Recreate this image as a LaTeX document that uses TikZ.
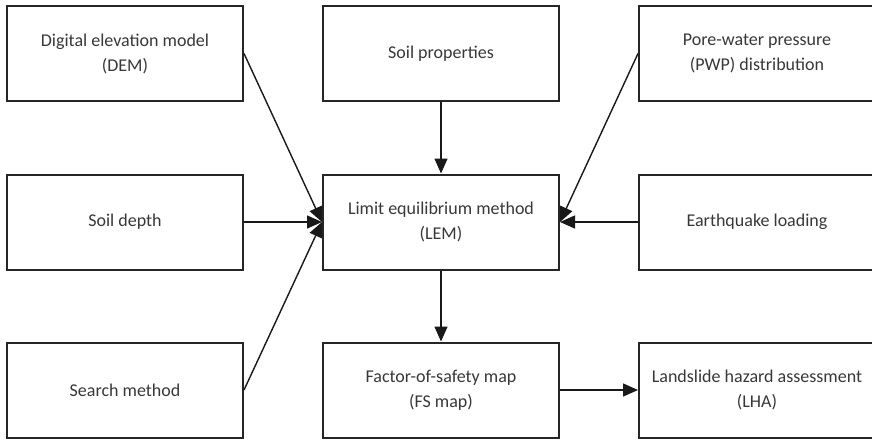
\documentclass[tikz,border=0pt]{standalone}
\usepackage{fontspec}
\setmainfont{Carlito}
\usetikzlibrary{arrows.meta}
\begin{document}
\begin{tikzpicture}[x=1pt,y=-1pt,
  box/.style={draw=black!85, line width=2pt, fill=white, minimum width=236pt, minimum height=95pt,
    inner sep=0pt, align=center, text=black!78, font=\fontsize{18}{25}\selectfont},
  arr/.style={draw=black!90, line width=1.4pt, -{Triangle[length=15pt,width=13pt]}}]
\useasboundingbox (0,0) rectangle (872,440);
\node[box] (dem) at (125,53.5) {Digital elevation model\\(DEM)};
\node[box] (sp) at (441,53.5) {Soil properties};
\node[box] (pwp) at (757,53.5) {Pore-water pressure\\(PWP) distribution};
\node[box] (sd) at (125,222) {Soil depth};
\node[box] (lem) at (441,222) {Limit equilibrium method\\(LEM)};
\node[box] (eq) at (757,222) {Earthquake loading};
\node[box] (sm) at (125,390) {Search method};
\node[box] (fs) at (441,390) {Factor-of-safety map\\(FS map)};
\node[box] (lha) at (757,390) {Landslide hazard assessment\\(LHA)};
\draw[arr] (dem.east) -- (lem.west);
\draw[arr] (sd.east) -- (lem.west);
\draw[arr] (sm.east) -- (lem.west);
\draw[arr] (pwp.west) -- (lem.east);
\draw[arr] (eq.west) -- (lem.east);
\draw[arr] (sp.south) -- (lem.north);
\draw[arr] (lem.south) -- (fs.north);
\draw[arr] (fs.east) -- (lha.west);
\end{tikzpicture}
\end{document}
